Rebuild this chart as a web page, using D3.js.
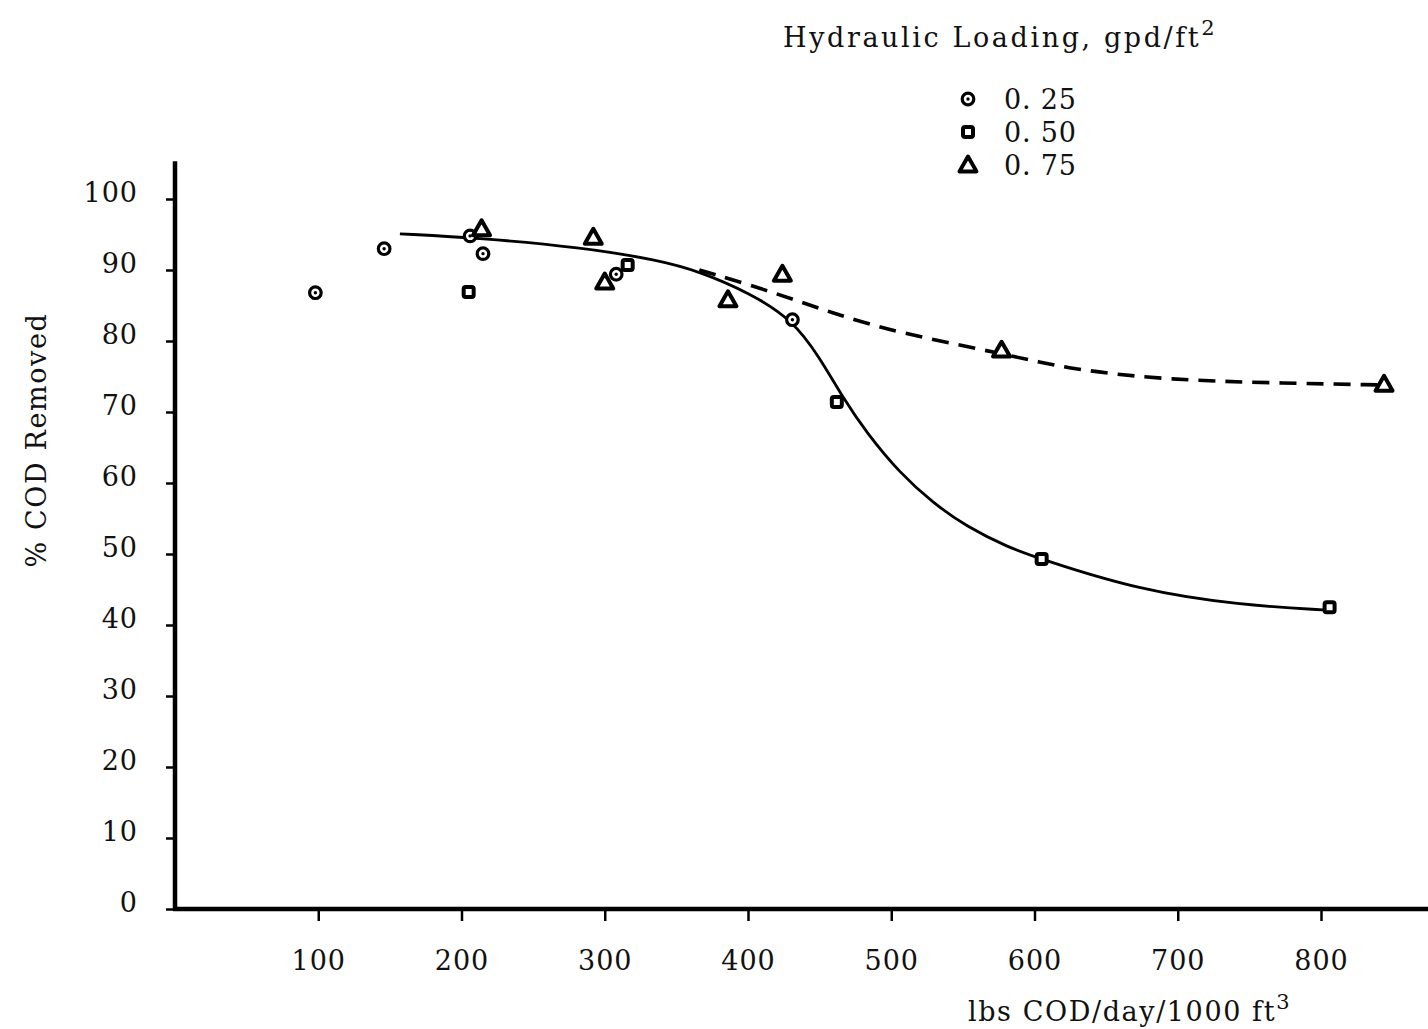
<!DOCTYPE html>
<html lang="en">
<head>
<meta charset="UTF-8">
<title>% COD Removed vs Organic Loading</title>
<script src="https://d3js.org/d3.v7.min.js"></script>
<style>
  body { margin: 0; background: #fff; }
  svg text { font-family: "DejaVu Serif", "Liberation Serif", serif; fill: #111; }
</style>
</head>
<body>
<div id="chart"></div>
<script>
// observed points, by hydraulic loading (gpd/ft2)
const loading025 = [[98, 86.8], [146, 93.0], [206, 94.8], [215, 92.3], [308, 89.4], [431, 83.0]];
const loading050 = [[205, 86.9], [316, 90.7], [462, 71.4], [605, 49.3], [806, 42.5]];
const loading075 = [[214, 95.8], [292, 94.6], [300, 88.3], [386, 85.8], [424, 89.4], [577, 78.7], [844, 73.9]];

// fitted curves
const solidCurve = [[157, 95.1], [213, 94.5], [283, 93.2], [338, 91.4], [366, 89.8], [401, 86.8], [431, 83.0],
  [450, 77.7], [466, 72.1], [483, 67.0], [506, 61.4], [529, 57.2], [553, 53.8], [581, 51.0], [604, 49.3],
  [673, 44.9], [743, 42.8], [804, 42.1]];
const dashedCurve = [[366, 90.0], [413, 87.2], [459, 83.9], [506, 81.1], [576, 78.3], [627, 75.9],
  [696, 74.5], [766, 74.1], [843, 73.8]];

const xTicks = [100, 200, 300, 400, 500, 600, 700, 800];
const yTicks = [0, 10, 20, 30, 40, 50, 60, 70, 80, 90, 100];
const legendLabels = ["0. 25", "0. 50", "0. 75"];

const width = 1428, height = 1029;

const svg = d3.select("#chart").append("svg")
    .attr("width", width)
    .attr("height", height);

const x = d3.scaleLinear().domain([0, 800]).range([175, 1321]);
const y = d3.scaleLinear().domain([0, 100]).range([909, 199]);

// axes lines
svg.append("line")
    .attr("x1", x(0)).attr("x2", x(0))
    .attr("y1", y(105.3)).attr("y2", y(0) + 2)
    .attr("stroke", "#000").attr("stroke-width", 4.5);
svg.append("line")
    .attr("x1", x(0) - 2).attr("x2", 1428)
    .attr("y1", y(0)).attr("y2", y(0))
    .attr("stroke", "#000").attr("stroke-width", 4.5);

const yAxis = svg.append("g")
    .attr("transform", `translate(${x(0)},0)`)
    .call(d3.axisLeft(y).tickValues(yTicks).tickSize(9).tickPadding(28));
yAxis.select(".domain").remove();
yAxis.selectAll(".tick line").attr("stroke", "#000").attr("stroke-width", 2.5);
yAxis.selectAll(".tick text")
    .attr("font-size", 27)
    .attr("letter-spacing", 1)
    .attr("dy", "0.1em");

const xAxis = svg.append("g")
    .attr("transform", `translate(0,${y(0)})`)
    .call(d3.axisBottom(x).tickValues(xTicks).tickSize(12).tickPadding(30));
xAxis.select(".domain").remove();
xAxis.selectAll(".tick line").attr("stroke", "#000").attr("stroke-width", 2.5);
xAxis.selectAll(".tick text")
    .attr("font-size", 27)
    .attr("letter-spacing", 1);

// axis titles
svg.append("text")
    .attr("transform", "translate(46,440) rotate(-90)")
    .attr("text-anchor", "middle")
    .attr("font-size", 27)
    .attr("letter-spacing", 1.6)
    .text("% COD Removed");

const xLabel = svg.append("text")
    .attr("x", 968).attr("y", 1021)
    .attr("font-size", 27)
    .attr("letter-spacing", 1.6);
xLabel.append("tspan").text("lbs COD/day/1000 ft");
xLabel.append("tspan").attr("font-size", 21).attr("dy", -12).text("3");

// curves
const line = d3.line().x(d => x(d[0])).y(d => y(d[1])).curve(d3.curveBasis);

svg.append("path")
    .datum(solidCurve)
    .attr("d", line)
    .attr("fill", "none")
    .attr("stroke", "#000")
    .attr("stroke-width", 2.8);

svg.append("path")
    .datum(dashedCurve)
    .attr("d", line)
    .attr("fill", "none")
    .attr("stroke", "#000")
    .attr("stroke-width", 3.6)
    .attr("stroke-dasharray", "17,10");

// markers
function drawCircle(g, cx, cy) {
    g.append("circle").attr("cx", cx).attr("cy", cy).attr("r", 5.8)
        .attr("fill", "#fff").attr("stroke", "#000").attr("stroke-width", 3.2);
    g.append("circle").attr("cx", cx).attr("cy", cy).attr("r", 1.7).attr("fill", "#000");
}
function drawSquare(g, cx, cy) {
    g.append("rect").attr("x", cx - 5).attr("y", cy - 5).attr("width", 10).attr("height", 10)
        .attr("rx", 2).attr("fill", "#fff").attr("stroke", "#000").attr("stroke-width", 4);
}
function drawTriangle(g, cx, cy) {
    const s = 8.5;
    g.append("path")
        .attr("d", `M${cx},${cy - s}L${cx + s},${cy + s * 0.75}L${cx - s},${cy + s * 0.75}Z`)
        .attr("fill", "#fff").attr("stroke", "#000").attr("stroke-width", 4)
        .attr("stroke-linejoin", "round");
}

const marks = svg.append("g");
loading025.forEach(d => drawCircle(marks, x(d[0]), y(d[1])));
loading050.forEach(d => drawSquare(marks, x(d[0]), y(d[1])));
loading075.forEach(d => drawTriangle(marks, x(d[0]), y(d[1])));

// legend
const legendTitle = svg.append("text")
    .attr("x", 783).attr("y", 47)
    .attr("font-size", 27)
    .attr("letter-spacing", 2.6);
legendTitle.append("tspan").text("Hydraulic Loading, gpd/ft");
legendTitle.append("tspan").attr("font-size", 21).attr("dy", -12).text("2");

const legendDraw = [drawCircle, drawSquare, drawTriangle];
const legend = svg.append("g");
legendLabels.forEach((lab, i) => {
    const ly = 99 + i * 33;
    legendDraw[i](legend, 968, ly);
    legend.append("text")
        .attr("x", 1004).attr("y", ly + 10)
        .attr("font-size", 27)
        .attr("letter-spacing", 0.8)
        .text(lab);
});
</script>
</body>
</html>
